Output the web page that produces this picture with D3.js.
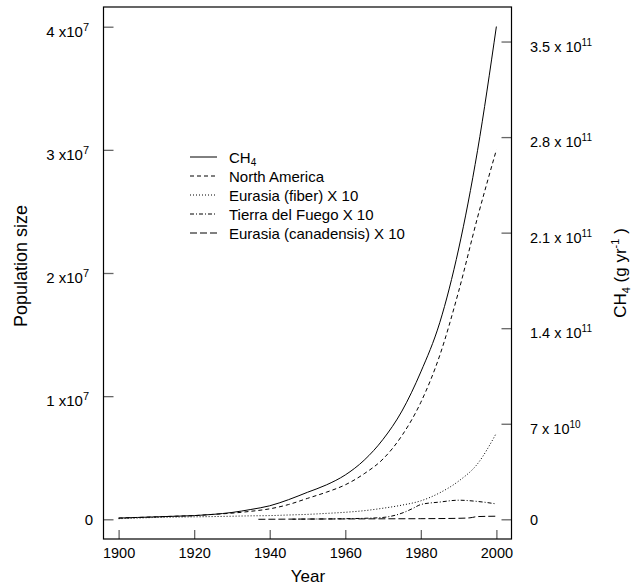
<!DOCTYPE html>
<html>
<head>
<meta charset="utf-8">
<script src="https://cdn.jsdelivr.net/npm/d3@7"></script>
<style>
  body { margin: 0; background: #fff; }
  svg { font-family: "Liberation Sans", Arial, sans-serif; }
</style>
</head>
<body>
<div id="chart"></div>
<script>
// five-year steps, population in units of 1e7, CH4 in units of 1e11 g/yr
const years = [1900, 1905, 1910, 1915, 1920, 1925, 1930, 1935, 1940, 1945, 1950,
  1955, 1960, 1965, 1970, 1975, 1980, 1985, 1990, 1995, 2000];
const ch4 = [0.009, 0.0135, 0.018, 0.0225, 0.027, 0.036, 0.05, 0.072, 0.099, 0.144, 0.198,
  0.252, 0.325, 0.433, 0.586, 0.793, 1.08, 1.44, 1.98, 2.70, 3.61];
const northAmerica = [0.01, 0.015, 0.02, 0.025, 0.03, 0.04, 0.05, 0.065, 0.085, 0.12, 0.17,
  0.22, 0.28, 0.37, 0.49, 0.68, 0.95, 1.33, 1.85, 2.45, 3.0];
const eurasiaFiberX10 = [0.005, 0.01, 0.015, 0.018, 0.02, 0.022, 0.025, 0.028, 0.03, 0.035, 0.04,
  0.048, 0.057, 0.07, 0.09, 0.115, 0.15, 0.215, 0.31, 0.45, 0.70];
const fuegoYears = [1946, 1950, 1955, 1960, 1965, 1970, 1975, 1978, 1980, 1985, 1990, 1995, 2000];
const fuegoX10 = [0.001, 0.002, 0.003, 0.005, 0.008, 0.015, 0.05, 0.09, 0.12, 0.14, 0.155, 0.145, 0.125];
const canadensisYears = [1937, 1950, 1960, 1970, 1980, 1990, 1993, 1995, 2000];
const canadensisX10 = [0.0, 0.002, 0.003, 0.004, 0.005, 0.008, 0.012, 0.022, 0.025];

const xTicks = [1900, 1920, 1940, 1960, 1980, 2000];
const leftTicks = [0, 1, 2, 3, 4];
const leftLabels = ["0", "1 x10|7", "2 x10|7", "3 x10|7", "4 x10|7"];
const rightTicks = [0, 0.7, 1.4, 2.1, 2.8, 3.5];
const rightLabels = ["0", "7 x 10|10", "1.4 x 10|11", "2.1 x 10|11", "2.8 x 10|11", "3.5 x 10|11"];

const legendNames = ["CH4", "North America", "Eurasia (fiber) X 10", "Tierra del Fuego X 10", "Eurasia (canadensis) X 10"];
const dashes = [null, "4,3", "1,2", "4,2,1,2", "7,3"];

const width = 636, height = 585;
const plotL = 103.5, plotR = 511.5, plotT = 7, plotB = 539;

const svg = d3.select("#chart").append("svg")
  .attr("width", width)
  .attr("height", height);

const x = d3.scaleLinear().domain([1896, 2004]).range([plotL, plotR]);
const yL = d3.scaleLinear().domain([-0.16, 4.16]).range([plotB, plotT]);
const yR = d3.scaleLinear().domain([-0.1443, 3.753]).range([plotB, plotT]);

// axes with inward ticks
const tickStyle = g => {
  g.select(".domain").remove();
  g.selectAll(".tick line").attr("stroke", "#666").attr("stroke-width", 1.3);
};

svg.append("g")
  .attr("transform", "translate(0," + plotB + ")")
  .call(d3.axisBottom(x).tickValues(xTicks).tickSizeInner(-9).tickSizeOuter(0).tickPadding(9).tickFormat(d3.format("d")))
  .call(tickStyle)
  .call(g => g.selectAll("text").attr("font-size", 14.5).attr("fill", "#000")
    .attr("font-family", "Liberation Sans, Arial, sans-serif"));

svg.append("g")
  .attr("transform", "translate(" + plotL + ",0)")
  .call(d3.axisLeft(yL).tickValues(leftTicks).tickSizeInner(-10).tickSizeOuter(0).tickFormat(""))
  .call(tickStyle);

svg.append("g")
  .attr("transform", "translate(" + plotR + ",0)")
  .call(d3.axisRight(yR).tickValues(rightTicks).tickSizeInner(-10).tickSizeOuter(0).tickFormat(""))
  .call(tickStyle);

// tick labels with superscripts
function addLabel(sel, str, supSize) {
  const parts = str.split("|");
  sel.append("tspan").text(parts[0]);
  if (parts[1]) {
    sel.append("tspan").attr("font-size", supSize).attr("dy", -6).text(parts[1]);
  }
}

leftTicks.forEach((v, i) => {
  const lab = leftLabels[i];
  const t = svg.append("text")
    .attr("x", lab.includes("|") ? 89 : 93)
    .attr("y", yL(v) + (lab.includes("|") ? 10 : 5.5))
    .attr("text-anchor", "end")
    .attr("font-size", 15);
  addLabel(t, lab, 11);
});

rightTicks.forEach((v, i) => {
  const lab = rightLabels[i];
  const t = svg.append("text")
    .attr("x", 530)
    .attr("y", yR(v) + (lab.includes("|") ? 10 : 5.5))
    .attr("font-size", 14.5);
  addLabel(t, lab, 10);
});

// frame
svg.append("rect")
  .attr("x", plotL).attr("y", plotT)
  .attr("width", plotR - plotL).attr("height", plotB - plotT)
  .attr("fill", "none").attr("stroke", "#000").attr("stroke-width", 1.2);

// series
const lineL = d3.line().x(d => x(d[0])).y(d => yL(d[1])).curve(d3.curveMonotoneX);
const lineR = d3.line().x(d => x(d[0])).y(d => yR(d[1])).curve(d3.curveMonotoneX);

const series = [
  { pts: d3.zip(years, ch4), gen: lineR },
  { pts: d3.zip(years, northAmerica), gen: lineL },
  { pts: d3.zip(years, eurasiaFiberX10), gen: lineL },
  { pts: d3.zip(fuegoYears, fuegoX10), gen: lineL },
  { pts: d3.zip(canadensisYears, canadensisX10), gen: lineL }
];

series.forEach((s, i) => {
  svg.append("path")
    .attr("d", s.gen(s.pts))
    .attr("fill", "none")
    .attr("stroke", "#000")
    .attr("stroke-width", 1)
    .attr("stroke-dasharray", dashes[i]);
});

// legend
const legend = svg.append("g");
legendNames.forEach((name, i) => {
  const ly = 157 + i * 19;
  legend.append("line")
    .attr("x1", 190).attr("x2", 217)
    .attr("y1", ly).attr("y2", ly)
    .attr("stroke", "#000").attr("stroke-width", 1)
    .attr("stroke-dasharray", dashes[i]);
  const t = legend.append("text")
    .attr("x", 229).attr("y", ly + 5.5)
    .attr("font-size", 15);
  if (name === "CH4") {
    t.append("tspan").text("CH");
    t.append("tspan").attr("font-size", 10).attr("dy", 3).text("4");
  } else {
    t.text(name);
  }
});

// axis titles
svg.append("text")
  .attr("x", 308).attr("y", 582)
  .attr("text-anchor", "middle")
  .attr("font-size", 17)
  .text("Year");

svg.append("text")
  .attr("transform", "translate(27,266) rotate(-90)")
  .attr("text-anchor", "middle")
  .attr("font-size", 18)
  .text("Population size");

const rt = svg.append("text")
  .attr("transform", "translate(626,273) rotate(-90)")
  .attr("text-anchor", "middle")
  .attr("font-size", 17);
rt.append("tspan").text("CH");
rt.append("tspan").attr("font-size", 11).attr("dy", 4).text("4");
rt.append("tspan").attr("dy", -4).text(" (g yr");
rt.append("tspan").attr("font-size", 11).attr("dy", -7).text("-1");
rt.append("tspan").attr("dy", 7).text(" )");
</script>
</body>
</html>
